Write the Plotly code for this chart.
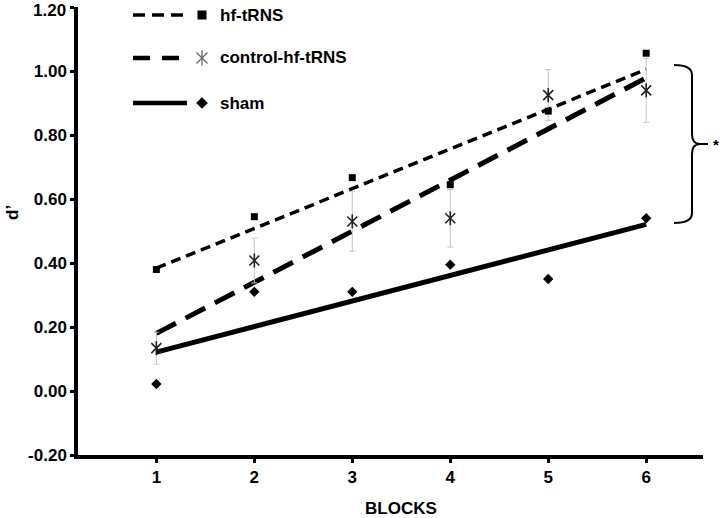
import numpy as np
import plotly.graph_objects as go

# ---- data ----
blocks = [1, 2, 3, 4, 5, 6]
hf_trns = [0.38, 0.545, 0.667, 0.645, 0.875, 1.056]
control_hf_trns = [0.134, 0.408, 0.53, 0.54, 0.925, 0.94]
control_err = [0.05, 0.07, 0.093, 0.09, 0.08, 0.10]
sham = [0.022, 0.31, 0.31, 0.395, 0.35, 0.54]

y_tickvals = [-0.2, 0.0, 0.2, 0.4, 0.6, 0.8, 1.0, 1.2]
y_ticktext = ["-0.20", "0.00", "0.20", "0.40", "0.60", "0.80", "1.00", "1.20"]
x_ticktext = ["1", "2", "3", "4", "5", "6"]
series_names = ["hf-tRNS", "control-hf-tRNS", "sham"]

FONT = "Liberation Sans, Arial, sans-serif"
BLACK = "#000000"
STAR = "#222222"


def bold(size):
    return dict(family=FONT, size=size, color=BLACK, weight="bold")


x = np.array(blocks, dtype=float)


def fit(y):
    slope, intercept = np.polyfit(x, np.array(y, dtype=float), 1)
    return slope * x + intercept


fig = go.Figure()

# linear trend lines
fig.add_trace(go.Scatter(x=blocks, y=fit(hf_trns), mode="lines",
                         line=dict(color=BLACK, width=3.5, dash="10px,6px"),
                         showlegend=False, hoverinfo="skip"))
fig.add_trace(go.Scatter(x=blocks, y=fit(control_hf_trns), mode="lines",
                         line=dict(color=BLACK, width=5, dash="22px,11px"),
                         showlegend=False, hoverinfo="skip"))
fig.add_trace(go.Scatter(x=blocks, y=fit(sham), mode="lines",
                         line=dict(color=BLACK, width=5),
                         showlegend=False, hoverinfo="skip"))

# markers
fig.add_trace(go.Scatter(x=blocks, y=control_hf_trns, mode="markers",
                         error_y=dict(type="data", array=control_err, color="#c4c4c4",
                                      thickness=1, width=3),
                         marker=dict(symbol="x-thin-open", size=10, color=STAR,
                                     line=dict(color=STAR, width=1.6)),
                         name=series_names[1], showlegend=False))
fig.add_trace(go.Scatter(x=blocks, y=control_hf_trns, mode="markers",
                         marker=dict(symbol="line-ns-open", size=10, color=STAR,
                                     line=dict(color=STAR, width=1.6)),
                         showlegend=False, hoverinfo="skip"))
fig.add_trace(go.Scatter(x=blocks, y=hf_trns, mode="markers",
                         marker=dict(symbol="square", size=7, color=BLACK),
                         name=series_names[0], showlegend=False))
fig.add_trace(go.Scatter(x=blocks, y=sham, mode="markers",
                         marker=dict(symbol="diamond", size=8, color=BLACK),
                         name=series_names[2], showlegend=False))

# ---- custom legend (paper-like overlay axes) ----
L_PX0, L_PX1 = 78, 703
L_PY0, L_PY1 = 455, 7


def px(v):
    return (v - L_PX0) / (L_PX1 - L_PX0)


def py(v):
    return (L_PY0 - v) / (L_PY0 - L_PY1)


leg_rows = [15, 58, 103]
leg_dash = ["12px,7px", "17px,12px", "solid"]
leg_width = [3.5, 4.5, 4.5]
for row, dash, w in zip(leg_rows, leg_dash, leg_width):
    fig.add_shape(type="line", xref="paper", yref="paper",
                  x0=px(133), x1=px(187), y0=py(row), y1=py(row),
                  line=dict(color=BLACK, width=w, dash=dash))

leg_mx = px(202)
LEG_STAR = "#666666"
fig.add_trace(go.Scatter(x=[leg_mx], y=[py(leg_rows[0])], xaxis="x2", yaxis="y2",
                         mode="markers", marker=dict(symbol="square", size=9, color=BLACK),
                         showlegend=False, hoverinfo="skip"))
fig.add_trace(go.Scatter(x=[leg_mx], y=[py(leg_rows[1])], xaxis="x2", yaxis="y2",
                         mode="markers",
                         marker=dict(symbol="x-thin-open", size=11, color=LEG_STAR,
                                     line=dict(color=LEG_STAR, width=1.3)),
                         showlegend=False, hoverinfo="skip"))
fig.add_trace(go.Scatter(x=[leg_mx], y=[py(leg_rows[1])], xaxis="x2", yaxis="y2",
                         mode="markers",
                         marker=dict(symbol="line-ns-open", size=11, color=LEG_STAR,
                                     line=dict(color=LEG_STAR, width=1.3)),
                         showlegend=False, hoverinfo="skip"))
fig.add_trace(go.Scatter(x=[leg_mx], y=[py(leg_rows[2])], xaxis="x2", yaxis="y2",
                         mode="markers", marker=dict(symbol="diamond", size=9, color=BLACK),
                         showlegend=False, hoverinfo="skip"))

annotations = []
for row, name in zip(leg_rows, series_names):
    annotations.append(dict(x=px(218), y=py(row), xref="paper", yref="paper",
                            text=name, showarrow=False, xanchor="left", yanchor="middle",
                            font=bold(17)))

# bracket with significance star
bx, btip, bend = px(692), px(700), px(708)
bl = px(674)
ytop, ymid, ybot = py(65), py(144), py(223)
r = py(0) - py(10)
path = (f"M {bl},{ytop} Q {bx},{ytop} {bx},{ytop - r} "
        f"L {bx},{ymid + r} Q {bx},{ymid} {btip},{ymid} "
        f"Q {bx},{ymid} {bx},{ymid - r} "
        f"L {bx},{ybot + r} Q {bx},{ybot} {bl},{ybot}")
fig.add_shape(type="path", xref="paper", yref="paper", path=path,
              line=dict(color=BLACK, width=2))
fig.add_shape(type="line", xref="paper", yref="paper",
              x0=btip, x1=bend, y0=ymid, y1=ymid, line=dict(color=BLACK, width=2))
annotations.append(dict(x=px(716), y=py(144), xref="paper", yref="paper", text="*",
                        showarrow=False, xanchor="center", yanchor="middle",
                        font=bold(15)))

# top y tick label placed just inside the page so it is not clipped
axis_ticktext = y_ticktext[:-1] + [""]
annotations.append(dict(x=px(67), y=py(0), xref="paper", yref="paper",
                        text=y_ticktext[-1], showarrow=False, xanchor="right", yanchor="top",
                        borderpad=0, font=bold(17)))

# axis titles
annotations.append(dict(x=3.5, y=py(508), xref="x", yref="paper", text="BLOCKS",
                        showarrow=False, xanchor="center", yanchor="middle",
                        font=bold(17)))
annotations.append(dict(x=px(12), y=py(213), xref="paper", yref="paper", text="d’",
                        showarrow=False, xanchor="center", yanchor="middle", textangle=-90,
                        font=bold(17)))

fig.update_layout(
    width=720, height=518,
    margin=dict(l=78, r=17, t=7, b=63, autoexpand=False),
    paper_bgcolor="white", plot_bgcolor="white",
    font=bold(17),
    showlegend=False,
    annotations=annotations,
    xaxis=dict(range=[0.2, 6.58], tickvals=blocks, ticktext=x_ticktext, automargin=False,
               showgrid=False, zeroline=False, showline=True, linecolor=BLACK, linewidth=3.5,
               ticks="outside", ticklen=4, tickwidth=3, tickcolor=BLACK,
               tickfont=bold(17)),
    yaxis=dict(range=[-0.2, 1.2005], tickvals=y_tickvals, ticktext=axis_ticktext, automargin=False,
               showgrid=False, zeroline=False, showline=True, linecolor=BLACK, linewidth=3.5,
               ticks="outside", ticklen=4, tickwidth=3, tickcolor=BLACK,
               ticklabeloverflow="allow", tickfont=bold(17)),
    xaxis2=dict(range=[0, 1], overlaying="x", visible=False, fixedrange=True),
    yaxis2=dict(range=[0, 1], overlaying="y", visible=False, fixedrange=True),
)

fig.write_html("out.html", config={"displayModeBar": False},
               post_script="document.body.style.margin='0px';")
